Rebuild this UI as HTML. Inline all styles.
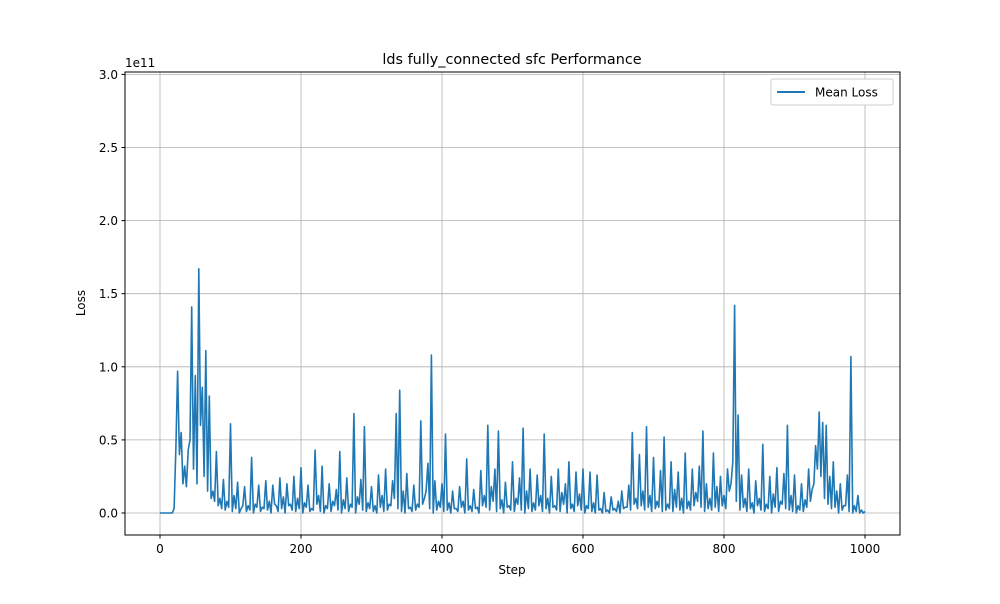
<!DOCTYPE html>
<html><head><meta charset="utf-8"><style>
body{margin:0;background:#fff;font-family:"DejaVu Sans","Liberation Sans",sans-serif;}
</style></head><body>
<svg id="chart" width="1000" height="600" xmlns="http://www.w3.org/2000/svg">
<rect width="1000" height="600" fill="#fff"/>
<g id="grid"></g>
<g id="series"></g>
<rect x="125" y="72" width="775" height="463" fill="none" stroke="#000" stroke-width="1"/>
<g id="ticks" font-size="12" fill="#000"></g>
<text x="512" y="64" text-anchor="middle" font-size="14.4">lds fully_connected sfc Performance</text>
<text x="512" y="574" text-anchor="middle" font-size="12">Step</text>
<text x="85" y="303" text-anchor="middle" font-size="12" transform="rotate(-90 85 303)">Loss</text>
<text x="125" y="67" font-size="12">1e11</text>
<g>
<rect x="771" y="79" width="122" height="26" rx="2" fill="#fff" stroke="#ccc"/>
<line x1="777" y1="92" x2="805" y2="92" stroke="#1f77b4" stroke-width="2"/>
<text x="815" y="96.5" font-size="12">Mean Loss</text>
</g>
</svg>
<script>
const xTicks=[0,200,400,600,800,1000];
const yTicks=[0,0.5,1.0,1.5,2.0,2.5,3.0];
const yTickLabels=["0.0","0.5","1.0","1.5","2.0","2.5","3.0"];
const stepSize=5;
// mean loss in units of 1e10, every 5 steps
const meanLoss=[0,0,0,0,0.3,9.7,5.5,3.2,4.3,14.1,9.4,16.7,8.6,11.1,8,1.5,4.2,1,2.3,0.8,6.1,
1.2,2.1,0.3,1.8,0.5,3.8,0.6,1.9,0.4,2.2,0.8,1.9,0.5,2.4,1.1,2.0,0.6,2.5,1.0,3.1,
0.7,1.9,0.3,4.3,1.2,3.2,0.5,2.0,0.8,1.6,4.2,0.9,2.4,0.6,6.8,1.1,2.3,5.9,0.7,1.8,
0.5,2.6,1.2,3.0,0.6,2.2,6.8,8.4,1.5,2.7,0.4,1.9,0.6,6.3,1.0,3.4,10.8,2.2,0.8,2.0,
5.4,0.7,1.5,0.3,1.8,0.8,3.7,0.5,1.6,0.4,2.9,1.2,6.0,1.8,3.0,5.6,0.9,2.1,0.5,3.5,
1.0,2.4,5.8,1.5,3.0,0.7,2.6,1.2,5.4,1.0,2.5,0.5,3.0,1.4,2.0,3.5,0.6,2.8,1.3,3.0,
0.5,2.8,0.7,2.6,0.3,1.4,0.2,1.1,0.3,0.8,1.5,0.4,1.9,5.5,1.0,4.0,1.5,5.9,1.2,3.8,
0.8,2.9,5.2,0.6,3.5,1.6,2.8,1.0,4.1,0.8,3.0,1.4,3.2,5.6,2.0,1.0,4.1,1.8,2.5,1.2,
3.0,2.0,14.2,6.7,2.6,1.0,3.0,0.7,2.2,1.0,4.7,0.6,2.5,1.3,3.1,0.8,2.7,6.0,1.2,2.6,
0.5,2.0,0.9,3.0,1.6,4.6,6.9,6.2,6.0,2.5,3.5,1.5,2.0,0.5,2.6,10.7,0.5,1.2,0.2,0.1];
// trough values between consecutive samples (midpoints, units of 1e10)
const troughLoss=[0,0,0,0,4.5,4,2,1.8,5,3,2,6,2.5,1.5,1,0.8,0.5,0.3,0.2,0.4,
0.1,0.3,0.0,0.5,0.1,0.2,0.0,0.4,0.1,0.3,0.2,0.0,0.6,0.1,0.3,0.0,0.5,0.2,0.1,0.3,
0.0,0.4,0.1,0.2,0.6,0.1,0.0,0.3,0.1,0.5,0.2,0.0,0.3,0.1,0.4,0.0,0.6,0.2,0.1,0.3,
0.1,0.0,0.4,0.1,0.2,0.5,1.0,0.3,0.1,0.0,0.3,0.1,0.2,0.4,0.6,1.5,0.3,0.0,0.2,0.4,
0.1,0.2,0.0,0.3,0.1,0.4,0.0,0.2,0.1,0.3,0.0,0.5,0.4,0.2,0.8,0.1,0.3,0.0,0.4,0.2,
0.1,0.6,0.2,0.0,0.3,0.1,0.2,0.5,0.1,0.3,0.0,0.4,0.2,0.1,0.6,0.0,0.3,0.1,0.5,0.2,
0.0,0.3,0.1,0.0,0.2,0.0,0.1,0.0,0.2,0.1,0.0,0.3,0.4,0.2,0.6,0.3,0.5,0.2,0.4,0.1,
0.3,0.4,0.1,0.2,0.3,0.1,0.4,0.2,0.0,0.3,0.2,0.5,0.8,0.4,0.1,0.3,0.2,0.4,0.1,0.5,
0.3,1.5,3.5,0.8,0.2,0.4,0.1,0.3,0.0,0.5,0.2,0.1,0.3,0.0,0.4,0.1,0.6,0.3,0.2,0.1,
0.0,0.2,0.1,0.4,0.8,2.0,3.0,2.5,1.0,0.6,0.3,0.4,0.0,0.2,0.5,0.1,0.0,0.1,0.0,0.0];
const NS="http://www.w3.org/2000/svg";
const xs=v=>160+v*0.705;
const ys=v=>513-v*146.2;
const grid=document.getElementById('grid'),ticks=document.getElementById('ticks'),series=document.getElementById('series');
function mk(t,a,p){const e=document.createElementNS(NS,t);for(const k in a)e.setAttribute(k,a[k]);p.appendChild(e);return e;}
xTicks.forEach(t=>{const x=xs(t);
 const g=mk('line',{x1:x,x2:x,y1:72,y2:535,stroke:'#b0b0b0','stroke-width':0.8},grid);
 
 
 mk('line',{x1:x,x2:x,y1:535,y2:538.5,stroke:'#000'},ticks);
 const l=mk('text',{x:x,y:553,'text-anchor':'middle'},ticks);l.textContent=t;
 
 });
yTicks.forEach((t,i)=>{const y=ys(t);
 const g=mk('line',{x1:125,x2:900,y1:y,y2:y,stroke:'#b0b0b0','stroke-width':0.8},grid);
 
 
 mk('line',{x1:121.5,x2:125,y1:y,y2:y,stroke:'#000'},ticks);
 const l=mk('text',{x:118,y:y+4.5,'text-anchor':'end'},ticks);l.textContent=yTickLabels[i];
 
 });
const p=[];
meanLoss.forEach((v,i)=>{
 p.push(xs(i*stepSize).toFixed(1)+','+ys(v/10).toFixed(1));
 if(i<troughLoss.length)p.push(xs(i*stepSize+stepSize/2).toFixed(1)+','+ys(troughLoss[i]/10).toFixed(1));
});
const line=mk('polyline',{points:p.join(' '),fill:'none',stroke:'#1f77b4','stroke-width':1.6,'stroke-linejoin':'round'},series);


</script>
</body></html>
